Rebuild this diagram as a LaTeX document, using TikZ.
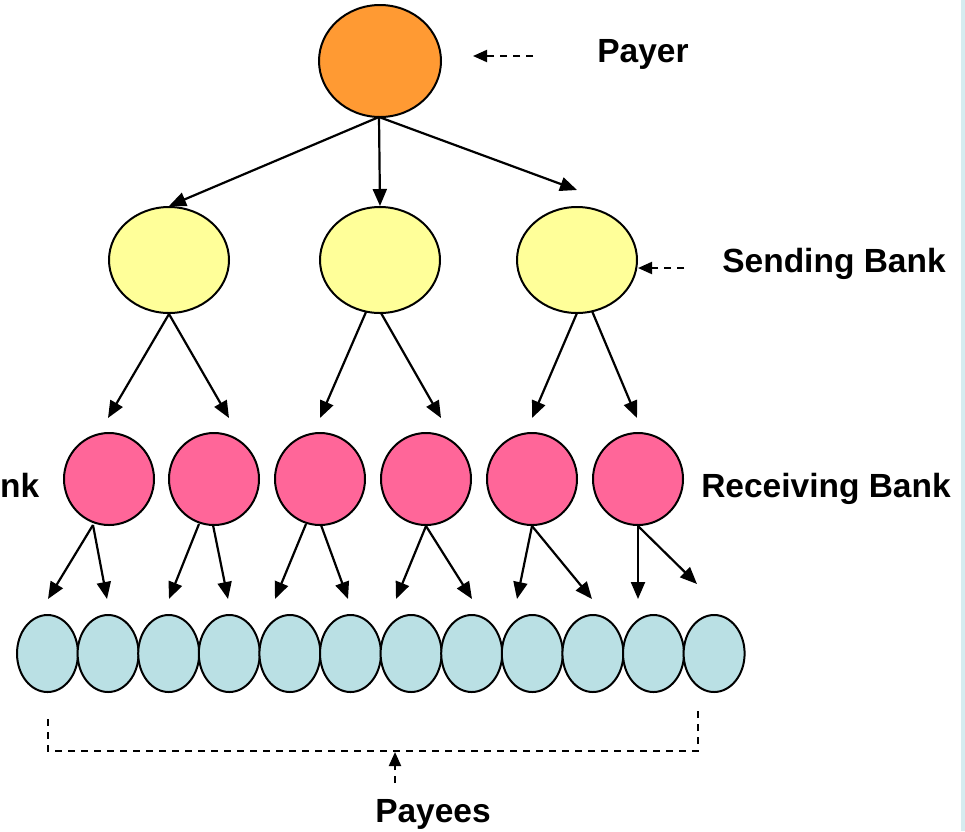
\documentclass[tikz,border=0pt]{standalone}
\usepackage{fontspec}
\setmainfont{Liberation Sans}
\usetikzlibrary{arrows.meta,calc,shapes.geometric}
\definecolor{payercol}{RGB}{255,154,51}
\definecolor{sendcol}{RGB}{255,255,153}
\definecolor{recvcol}{RGB}{255,102,153}
\definecolor{payeecol}{RGB}{186,224,228}
\definecolor{edgecol}{RGB}{214,236,240}
\begin{document}
\begin{tikzpicture}[x=1pt,y=-1pt,
  bub/.style={draw=black,line width=2pt,ellipse,inner sep=0pt},
  flow/.style={line width=2.2pt,-{Triangle[length=17pt,width=14pt]}},
  hint/.style={line width=2pt,dash pattern=on 7pt off 6pt,-{Triangle[length=14pt,width=12pt]}},
  brk/.style={line width=2pt,dash pattern=on 7pt off 6pt},
  lbl/.style={font=\bfseries\fontsize{33.5}{40}\selectfont,inner sep=0pt,anchor=base}]
\useasboundingbox (0,0) rectangle (965,831);
\fill[white] (0,0) rectangle (965,831);
\fill[edgecol] (961,0) rectangle (965,831);
% payer
\node[bub,fill=payercol,minimum width=122pt,minimum height=112pt] (payer) at (380,61) {};
% sending banks
\foreach \i/\x in {1/169,2/380,3/577}
  \node[bub,fill=sendcol,minimum width=120pt,minimum height=106pt] (s\i) at (\x,260) {};
% receiving banks
\foreach \i/\x in {1/109,2/214,3/320,4/426,5/532,6/638}
  \node[bub,fill=recvcol,minimum width=90pt,minimum height=92pt] (r\i) at (\x,479) {};
% payees
\foreach \i in {1,...,12}
  \node[bub,fill=payeecol,minimum width=61pt,minimum height=77pt] (p\i) at ({47.5+60.6*(\i-1)},653.5) {};
% labels
\node[lbl] (tpayer) at (643,62) {Payer};
\node[lbl] (tsend) at (834,272) {Sending Bank};
\node[lbl] (trecv) at (826,497) {Receiving Bank};
\node[lbl,anchor=base west] (trecvl) at (0,497) {nk};
\node[lbl] (tpayees) at (433,822) {Payees};
% hint arrows
\coordinate (hp) at (533,56);
\coordinate (hpe) at (473,56);
\draw[hint] (hp) -- (hpe);
\coordinate (hs) at (684,268);
\draw[hint] (hs) -- (s3.east |- hs);
% payer arrows
\coordinate (ps) at (379,117);
\coordinate (e3) at (577,190);
\draw[flow] (ps) -- (s1.north);
\draw[flow] (ps) -- (s2.north);
\draw[flow] (ps) -- (e3);
% sending -> receiving
\coordinate (a1) at (108,418); \coordinate (a2) at (229,418);
\coordinate (a3) at (320,418); \coordinate (a4) at (441,418);
\coordinate (a5) at (532,418); \coordinate (a6) at (637,418);
\coordinate (b2l) at (366,312); \coordinate (b2r) at (381,313);
\coordinate (b3l) at (577,313); \coordinate (b3r) at (592,311);
\draw[flow] (s1.south) -- (a1);
\draw[flow] (s1.south) -- (a2);
\draw[flow] (b2l) -- (a3);
\draw[flow] (b2r) -- (a4);
\draw[flow] (b3l) -- (a5);
\draw[flow] (b3r) -- (a6);
% receiving -> payees
\coordinate (c1) at (48,599);  \coordinate (c2) at (107,599);
\coordinate (c3) at (169,599); \coordinate (c4) at (228,599);
\coordinate (c5) at (275,599); \coordinate (c6) at (348,599);
\coordinate (c7) at (396,599); \coordinate (c8) at (472,599);
\coordinate (c9) at (517,599); \coordinate (c10) at (592,599);
\coordinate (c11) at (638,599); \coordinate (c12) at (697,584);
\coordinate (d1) at (93,525);
\coordinate (d2l) at (199,524); \coordinate (d2r) at (213,525);
\coordinate (d3l) at (306,524); \coordinate (d3r) at (321,525);
\draw[flow] (d1) -- (c1);
\draw[flow] (d1) -- (c2);
\draw[flow] (d2l) -- (c3);
\draw[flow] (d2r) -- (c4);
\draw[flow] (d3l) -- (c5);
\draw[flow] (d3r) -- (c6);
\draw[flow] (r4.south) -- (c7);
\draw[flow] (r4.south) -- (c8);
\draw[flow] (r5.south) -- (c9);
\draw[flow] (r5.south) -- (c10);
\draw[flow] (r6.south) -- (c11);
\draw[flow] (r6.south) -- (c12);
% bracket
\coordinate (k1) at (48,719);
\coordinate (k2) at (48,751);
\coordinate (k3) at (698,751);
\coordinate (k4) at (698,705);
\draw[brk] (k1) -- (k2) -- (k3) -- (k4);
\coordinate (ka) at (395,783);
\coordinate (kb) at (395,752);
\draw[hint] (ka) -- (kb);
\end{tikzpicture}
\end{document}
